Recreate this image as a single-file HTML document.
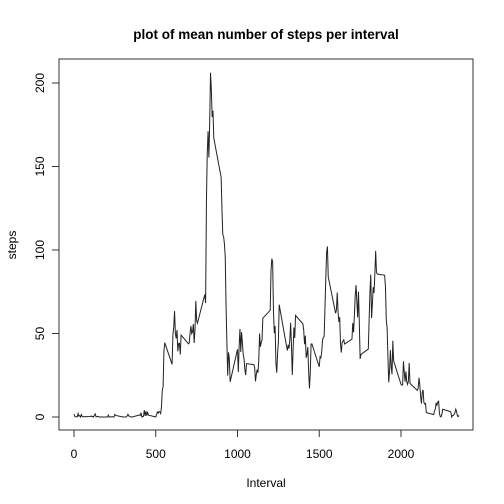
<!DOCTYPE html>
<html><head><meta charset="utf-8"><style>
html,body{margin:0;padding:0;background:#fff;}
svg{display:block;font-family:"Liberation Sans",Arial,sans-serif;}
</style></head><body>
<svg id="chart" width="504" height="504" viewBox="0 0 504 504">
<text x="266" y="39" text-anchor="middle" font-size="13.5" font-weight="bold">plot of mean number of steps per interval</text>
<rect x="59" y="59" width="414" height="371" fill="none" stroke="#333" stroke-width="1"/>
<g id="xaxis"></g>
<g id="yaxis"></g>
<text x="266" y="487" text-anchor="middle" font-size="12">Interval</text>
<text x="16" y="245" text-anchor="middle" font-size="12" transform="rotate(-90 16 245)">steps</text>
<path id="line" fill="none" stroke="#222" stroke-width="1"/>
</svg>
<script>
const xTicks=[0,500,1000,1500,2000];
const yTicks=[0,50,100,150,200];
const intervals=[0,5,10,15,20,25,30,35,40,45,50,55,100,105,110,115,120,125,130,135,140,145,150,155,200,205,210,215,220,225,230,235,240,245,250,255,300,305,310,315,320,325,330,335,340,345,350,355,400,405,410,415,420,425,430,435,440,445,450,455,500,505,510,515,520,525,530,535,540,545,550,555,600,605,610,615,620,625,630,635,640,645,650,655,700,705,710,715,720,725,730,735,740,745,750,755,800,805,810,815,820,825,830,835,840,845,850,855,900,905,910,915,920,925,930,935,940,945,950,955,1000,1005,1010,1015,1020,1025,1030,1035,1040,1045,1050,1055,1100,1105,1110,1115,1120,1125,1130,1135,1140,1145,1150,1155,1200,1205,1210,1215,1220,1225,1230,1235,1240,1245,1250,1255,1300,1305,1310,1315,1320,1325,1330,1335,1340,1345,1350,1355,1400,1405,1410,1415,1420,1425,1430,1435,1440,1445,1450,1455,1500,1505,1510,1515,1520,1525,1530,1535,1540,1545,1550,1555,1600,1605,1610,1615,1620,1625,1630,1635,1640,1645,1650,1655,1700,1705,1710,1715,1720,1725,1730,1735,1740,1745,1750,1755,1800,1805,1810,1815,1820,1825,1830,1835,1840,1845,1850,1855,1900,1905,1910,1915,1920,1925,1930,1935,1940,1945,1950,1955,2000,2005,2010,2015,2020,2025,2030,2035,2040,2045,2050,2055,2100,2105,2110,2115,2120,2125,2130,2135,2140,2145,2150,2155,2200,2205,2210,2215,2220,2225,2230,2235,2240,2245,2250,2255,2300,2305,2310,2315,2320,2325,2330,2335,2340,2345,2350,2355];
const steps=[1.72,0.34,0.13,0.15,0.08,2.09,0.53,0.87,0,1.47,0.3,0.13,0.32,0.68,0.15,0.34,0,1.11,1.83,0.17,0.17,0.38,0.26,0,0,0,1.13,0,0,0.13,0,0.23,0,0,1.55,0.94,0,0,0,0,0.21,0.62,1.62,0.58,0.49,0.08,0,0,1.19,0.94,2.57,0,0.34,0.36,4.11,0.66,3.49,0.83,3.11,1.11,0,1.57,3.0,2.25,3.32,2.96,2.09,6.06,16.0,18.3,39.45,44.49,31.49,49.26,53.77,63.45,49.96,47.08,52.15,39.34,44.02,44.17,37.36,49.04,43.81,44.38,50.51,54.51,49.92,50.98,55.68,44.32,52.26,69.55,57.85,56.15,73.38,68.21,129.43,157.53,171.15,155.4,177.3,206.17,195.92,179.57,183.4,167.02,143.45,124.04,109.11,108.11,103.72,95.97,66.21,45.23,24.79,38.75,34.98,21.06,40.57,26.98,42.42,52.66,38.92,50.79,44.28,37.42,34.7,28.34,25.09,31.94,31.36,29.68,21.32,25.55,28.38,26.47,33.43,49.98,42.04,44.6,46.03,59.19,63.87,87.7,94.85,92.77,63.4,50.17,54.47,32.42,26.53,37.74,45.06,67.28,42.34,39.89,43.26,40.98,46.25,56.43,42.75,25.13,39.96,53.55,47.32,60.81,55.75,51.96,43.58,48.7,35.47,37.55,41.85,27.51,17.11,26.08,43.62,43.77,30.02,36.07,35.49,38.85,45.96,47.75,48.13,65.32,82.91,98.66,102.11,83.96,62.13,64.13,74.55,63.17,56.91,59.77,43.87,38.57,44.66,45.45,46.21,43.68,46.62,56.3,50.72,61.23,72.72,78.94,68.94,59.66,75.09,56.51,34.77,37.45,40.68,58.02,74.7,85.32,59.26,67.77,77.7,74.25,85.34,99.45,86.58,85.6,84.87,77.83,58.04,53.36,36.32,20.72,27.4,40.02,30.21,25.55,45.66,33.53,19.62,19.02,19.34,33.34,26.81,21.17,27.3,21.34,19.55,21.32,32.3,20.15,15.94,17.23,23.45,19.25,12.45,8.02,14.66,16.3,8.68,7.79,8.13,2.62,1.45,3.68,4.81,8.51,7.08,8.7,9.75,2.21,0.32,0.11,1.6,4.6,3.3,2.85,0,0.83,0.96,1.58,2.6,4.7,3.3,0.64,0.23,1.08];
const NS="http://www.w3.org/2000/svg";
function sx(v){return 74+v*(327/2000);}
function sy(v){return 417-v*(334/200);}
const xa=document.getElementById('xaxis'), ya=document.getElementById('yaxis');
function mk(tag,attrs,parent){const e=document.createElementNS(NS,tag);for(const k in attrs)e.setAttribute(k,attrs[k]);parent.appendChild(e);return e;}
mk('line',{x1:sx(xTicks[0]),x2:sx(xTicks[xTicks.length-1]),y1:430,y2:430,stroke:'#333'},xa);
xTicks.forEach(t=>{
  const l=mk('line',{x1:sx(t),x2:sx(t),y1:430,y2:437,stroke:'#333'},xa);
  
  
  const tx=mk('text',{x:sx(t),y:458,'text-anchor':'middle','font-size':12},xa);
  tx.textContent=t;
  
  
});
mk('line',{x1:59,x2:59,y1:sy(yTicks[0]),y2:sy(yTicks[yTicks.length-1]),stroke:'#333'},ya);
yTicks.forEach(t=>{
  const l=mk('line',{x1:52,x2:59,y1:sy(t),y2:sy(t),stroke:'#333'},ya);
  
  
  const tx=mk('text',{x:44,y:sy(t),'text-anchor':'middle','font-size':12,transform:'rotate(-90 44 '+sy(t)+')'},ya);
  tx.textContent=t;
  
  
});
let d='';
intervals.forEach((x,i)=>{d+=(i?'L':'M')+sx(x).toFixed(2)+','+sy(steps[i]).toFixed(2);});
document.getElementById('line').setAttribute('d',d);
</script>
</body></html>
